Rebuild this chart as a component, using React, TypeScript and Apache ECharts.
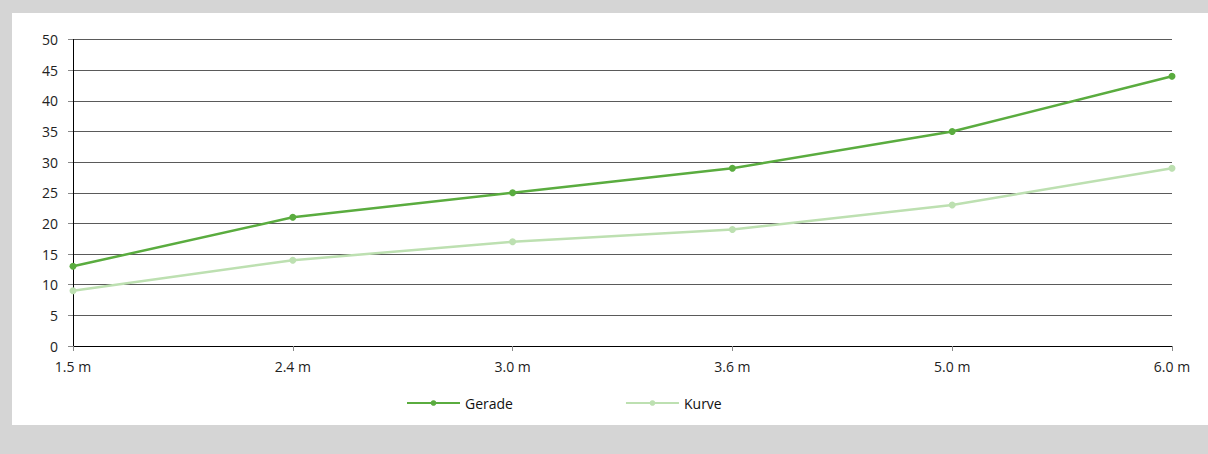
import React, { useEffect, useRef } from "react";
import * as echarts from "echarts";

const categories = ["1.5 m", "2.4 m", "3.0 m", "3.6 m", "5.0 m", "6.0 m"];
const gerade = [13, 21, 25, 29, 35, 44];
const kurve = [9, 14, 17, 19, 23, 29];
const seriesNames = ["Gerade", "Kurve"];
const seriesColors = ["#5aac3f", "#bde0b1"];

export default function App() {
  const ref = useRef<HTMLDivElement>(null);
  useEffect(() => {
    if (!ref.current) return;
    const chart = echarts.init(ref.current, undefined, { renderer: "svg" });
    const font = "'Open Sans', 'Noto Sans', sans-serif";
    chart.setOption({
      animation: false,
      textStyle: { fontFamily: font },
      grid: { left: 73, right: 36, top: 39.5, bottom: 108, containLabel: false },
      legend: {
        left: 401,
        top: 391,
        itemWidth: 53,
        itemHeight: 7,
        itemGap: 112,
        textStyle: { fontSize: 14, color: "#111", fontFamily: font },
        data: seriesNames,
      },
      xAxis: {
        type: "category",
        data: categories,
        boundaryGap: false,
        axisLine: { lineStyle: { color: "#000", width: 1 } },
        axisTick: { show: true, length: 5, lineStyle: { color: "#888" }, alignWithLabel: true },
        axisLabel: { fontSize: 14, color: "#222", margin: 13, fontFamily: font },
        splitLine: { show: false },
      },
      yAxis: {
        type: "value",
        min: 0,
        max: 50,
        interval: 5,
        axisLine: { show: true, lineStyle: { color: "#000", width: 1 } },
        axisTick: { show: true, length: 5, lineStyle: { color: "#888" } },
        axisLabel: { fontSize: 14, color: "#222", margin: 15, fontFamily: font },
        splitLine: { show: true, lineStyle: { color: "#5a5a5a", width: 1 } },
      },
      series: [
        {
          name: seriesNames[0],
          type: "line",
          data: gerade,
          symbol: "circle",
          symbolSize: 7,
          itemStyle: { color: seriesColors[0] },
          lineStyle: { color: seriesColors[0], width: 2.5 },
        },
        {
          name: seriesNames[1],
          type: "line",
          data: kurve,
          symbol: "circle",
          symbolSize: 7,
          itemStyle: { color: seriesColors[1] },
          lineStyle: { color: seriesColors[1], width: 2.5 },
        },
      ],
    });
    return () => chart.dispose();
  }, []);
  return (
    <div style={{ position: "fixed", left: 0, top: 0, width: 1208, height: 454, background: "#d5d5d5" }}>
      <div style={{ position: "absolute", left: 12, top: 13, width: 1196, height: 412, background: "#fff" }} />
      <div ref={ref} style={{ position: "absolute", left: 0, top: 0, width: 1208, height: 454 }} />
    </div>
  );
}
